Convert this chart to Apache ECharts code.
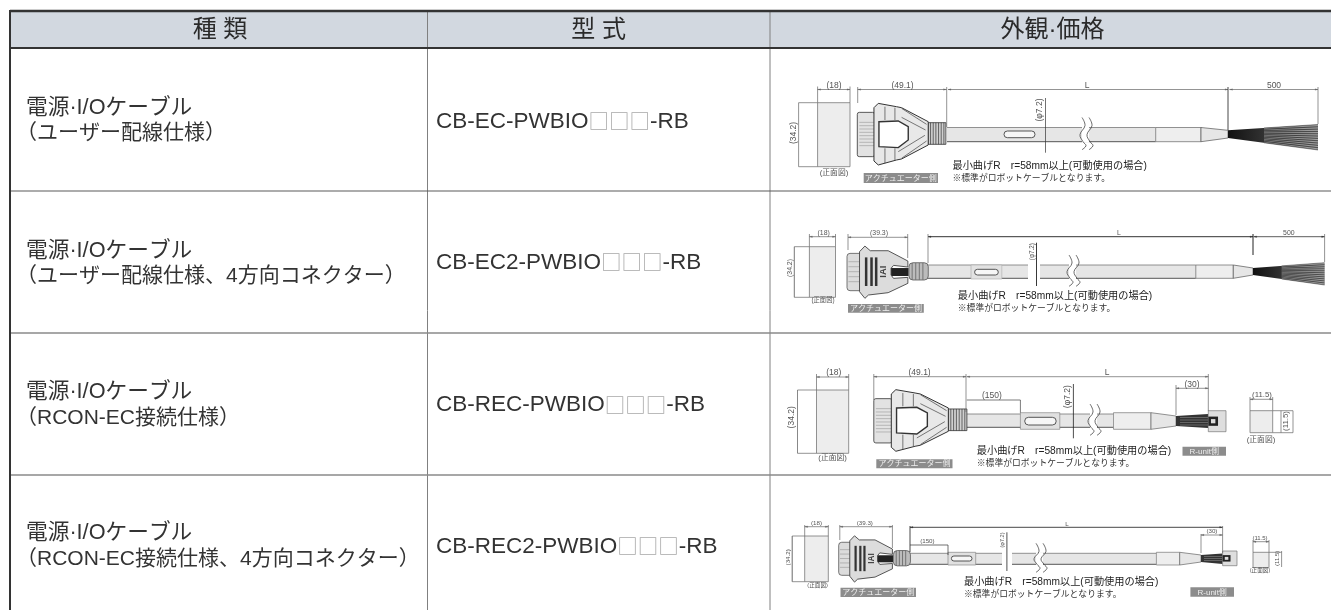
<!DOCTYPE html>
<html lang="ja"><head><meta charset="utf-8"><style>html,body{margin:0;padding:0;background:#fff}#c{width:1331px;height:610px}</style>
<script src="https://cdn.jsdelivr.net/npm/echarts@6/dist/echarts.min.js"></script></head><body><div id="c"></div>
<script>
const headers=['種 類','型 式','外観·価格'];
const kindLine1=['電源·I/Oケーブル','電源·I/Oケーブル','電源·I/Oケーブル','電源·I/Oケーブル'];
const kindLine2=['（ユーザー配線仕様）','（ユーザー配線仕様、4方向コネクター）','（RCON-EC接続仕様）','（RCON-EC接続仕様、4方向コネクター）'];
const models=['CB-EC-PWBIO□□□-RB','CB-EC2-PWBIO□□□-RB','CB-REC-PWBIO□□□-RB','CB-REC2-PWBIO□□□-RB'];
const noteBend='最小曲げR　r=58mm以上(可動使用の場合)';
const noteStd='※標準がロボットケーブルとなります。';
const tagActuator='アクチュエーター側', tagUnit='R-unit側', frontView='(正面図)';
const dimLabels={h:'(34.2)',w:'(18)',a:'(49.1)',b:'(39.3)',phi:'(φ7.2)',L:'L',wire:'500',s1:'(150)',s2:'(30)',sq:'(11.5)'};

const F='"Liberation Sans","Noto Sans CJK JP",sans-serif';
const FJ='"Noto Sans CJK JP",sans-serif';
const colX=[10,427.5,770,1331], rowY=[11,48,191,333,475,610];
const kindY=[[108,133],[250.7,276.5],[392,418],[533,559]], modelY=[121.7,262.7,405,546.7];

function renderAll(params,api){
  const kids=[];
  const C=(x,y)=>api.coord([x,y]);
  const line=(pts,stroke='#555',w=.8,smooth=0)=>kids.push({type:'polyline',shape:{points:pts.map(p=>C(p[0],p[1])),smooth},style:{stroke,lineWidth:w,fill:null}});
  const poly=(pts,fill,stroke='#555',w=.7)=>kids.push({type:'polygon',shape:{points:pts.map(p=>C(p[0],p[1]))},style:{fill,stroke,lineWidth:w}});
  const rect=(x1,y1,x2,y2,fill,stroke=null,w=.7,r=0)=>{const a=C(x1,y1),b=C(x2,y2);kids.push({type:'rect',shape:{x:a[0],y:a[1],width:b[0]-a[0],height:b[1]-a[1],r},style:{fill,stroke,lineWidth:w}});};
  const text=(s,x,y,size,opt={})=>{const p=C(x,y);kids.push({type:'text',x:p[0],y:p[1],rotation:opt.rot?Math.PI/2:0,style:{x:0,y:0,text:s,font:`${opt.weight||'normal'} ${size}px ${F}`,fill:opt.fill||'#333',align:opt.align||'center',verticalAlign:'middle',rich:opt.rich}});};

  // ---- table ----
  rect(colX[0],rowY[0],colX[3],rowY[1],'#d2d8e0');
  [colX[1],colX[2]].forEach(x=>line([[x,rowY[0]],[x,rowY[5]]],'#808080',1));
  line([[colX[0],rowY[2]],[colX[3],rowY[2]]],'#5a5a5a',1.2);
  line([[colX[0],rowY[3]],[colX[3],rowY[3]]],'#8a8a8a',1.5);
  line([[colX[0],rowY[4]],[colX[3],rowY[4]]],'#8a8a8a',1.5);
  line([[colX[0],rowY[0]],[colX[3],rowY[0]]],'#333',2.4);
  line([[colX[0],rowY[1]],[colX[3],rowY[1]]],'#333',2.2);
  line([[colX[0],rowY[0]-1],[colX[0],rowY[5]]],'#333',2);
  const hx=[220,598.7,1052.5];
  headers.forEach((h,i)=>text(h,hx[i],30,24,{fill:'#2a2a2a'}));
  kindLine1.forEach((t,i)=>{
    text(t,26,kindY[i][0],21.7,{align:'left'});
    text(kindLine2[i],16,kindY[i][1],21,{align:'left'});
    const m=models[i].split(/(□+)/);
    text(`{a|${m[0]}}{b|${m[1]}}{a|${m[2]}}`,436,modelY[i],22.5,{align:'left',rich:{a:{font:`22.5px ${F}`,fill:'#333'},b:{font:`20.5px ${FJ}`,fill:'#a8a8a8'}}});
  });

  // ---- drawing helpers ----
  const dimH=(x1,x2,y,label,lx,ly,fs=8.5,c='#666',w=.7)=>{line([[x1,y],[x2,y]],c,w);
    poly([[x1,y],[x1+3,y-.8],[x1+3,y+.8]],c,c,.2);poly([[x2,y],[x2-3,y-.8],[x2-3,y+.8]],c,c,.2);
    text(label,lx,ly,fs,{fill:'#555'});};
  const dimV=(x,y1,y2,label,lx,ly,fs=8.5,c='#666',w=.7)=>{line([[x,y1],[x,y2]],c,w);text(label,lx,ly,fs,{fill:'#555',rot:true});};
  const ext=(x1,y1,x2,y2,c='#666',w=.7)=>line([[x1,y1],[x2,y2]],c,w);
  const gray=(x1,y1,x2,y2,s,fs=8)=>{rect(x1,y1,x2,y2,'#8c8c8c');text(s,(x1+x2)/2,(y1+y2)/2+.3,fs,{fill:'#eee'});};
  const oval=(x1,y1,x2,y2)=>rect(x1,y1,x2,y2,'#f6f6f6','#444',.9,(y2-y1)/2);
  const cable=(x1,x2,y1,y2)=>{rect(x1,y1,x2,y2,'#e6e6e6');line([[x1,y1],[x2,y1]],'#777',.8);line([[x1,y2],[x2,y2]],'#444',.9);};
  const brk=(x,t,b)=>{const m=(t+b)/2;
    poly([[x,t-1],[x+7,t-1],[x+7,b+1],[x,b+1]],'#fff',null,0);
    [0,7].forEach(d=>line([[x+d,t-10],[x+d+3,t-2],[x+d-2,m],[x+d+1,b],[x+d+4,b+4],[x+d,b+8]],'#444',.8,.4));};
  const fan=(x1,x2,y1,y2,Y1,Y2)=>{
    poly([[x1,y1],[x2,Y1],[x2,Y2],[x1,y2]],new echarts.graphic.LinearGradient(0,0,1,0,[{offset:0,color:'#111'},{offset:.5,color:'#3a3a3a'},{offset:1,color:'#777'}]),null,0);
    for(let k=0;k<=22;k++){const f=k/22,t=.4;line([[x1+(x2-x1)*t,y1+(y2-y1)*f+((Y1-y1)*(1-f)+(Y2-y2)*f)*t],[x2,Y1+(Y2-Y1)*f]],k%2?'#d8d8d8':'#222',.45);}
  };
  const connA=(ox,cy,sx,sy)=>{const P=a=>a.map(p=>[ox+p[0]*sx,cy+p[1]*sy]);
    rect(ox,cy-65*sy,ox+52*sx,cy+68*sy,'#e2e2e2','#333',.8,2);
    [-35,-25,-15,-5,5,15,25,35].forEach(d=>line(P([[6,d],[50,d]]),'#888',.5));
    rect(ox+213*sx,cy-34*sy,ox+266*sx,cy+31*sy,'#d0d0d0','#333',.8);
    [220,228,236,244,252,260].forEach(d=>line(P([[d,-34],[d,31]]),'#333',.7));
    poly(P([[50,-79],[63,-92],[118,-82],[133,-79],[213,-37],[213,33],[133,75],[118,78],[63,93],[50,81]]),'#e8e8e8','#333',1);
    poly(P([[65,-37],[123,-39],[153,-22],[153,18],[123,41],[65,38]]),'#fff','#333',1.4);
    [[83,-82,83,-42],[113,-79,113,-42],[133,-77,208,-29],[133,-50,205,-12],[83,43,83,88],[113,43,113,78],[133,73,208,21],[123,53,203,4]].forEach(a=>line(P([[a[0],a[1]],[a[2],a[3]]]),'#444',.7));
  };
  const connB=(ox,cy,sx,sy)=>{const P=a=>a.map(p=>[ox+p[0]*sx,cy+p[1]*sy]);
    rect(ox,cy-55*sy,ox+42*sx,cy+57*sy,'#dcdcdc','#555',.8,3);
    [-30,-15,0,15,30].forEach(d=>line(P([[4,d],[38,d]]),'#888',.5));
    rect(ox+120*sx,cy-11*sy,ox+172*sx,cy+13*sy,'#222');
    rect(ox+173*sx,cy-27*sy,ox+227*sx,cy+25*sy,'#bcbcbc','#444',.7,4);
    [182,192,202,212].forEach(d=>line(P([[d,-26],[d,24]]),'#555',.7));
    poly(P([[35,-60],[50,-77],[65,-63],[115,-63],[170,-32],[170,-14],[130,-19],[123,-10],[123,10],[130,20],[170,17],[170,35],[115,63],[60,70],[50,80],[35,60]]),'#dcdcdc','#444',.9);
    [50,65,78].forEach(d=>rect(ox+d*sx,cy-43*sy,ox+(d+7)*sx,cy+43*sy,'#333'));
    const p=C(ox+103*sx,cy);kids.push({type:'text',x:p[0],y:p[1],rotation:Math.PI/2,style:{x:0,y:0,text:'IAI',font:`bold ${26*sx}px ${F}`,fill:'#444',align:'center',verticalAlign:'middle'}});
  };
  const plug=(x1,x2,y1,y2)=>{rect(x1,y1,x2,y2,'#dedede','#777',.7);const m=(y1+y2)/2,h=(y2-y1);
    rect(x1,m-h*.22,x1+(x2-x1)*.55,m+h*.22,'#222');rect(x1+(x2-x1)*.15,m-h*.1,x1+(x2-x1)*.4,m+h*.1,'#ddd');};

  // ---- row 1 ----
  rect(817.6,102.7,850,166.7,'#ededed','#777',.8);
  dimH(817.6,850,89.5,dimLabels.w,834,86); ext(817.6,86.5,817.6,102.7); ext(850,86.5,850,102.7);
  dimV(798.6,102.7,166.7,dimLabels.h,794,133); ext(798.6,102.7,817.6,102.7); ext(798.6,166.7,817.6,166.7);
  text(frontView,834,172.7,7.8,{fill:'#555'});
  cable(947,1155.7,127.5,141.7);
  oval(1004,131,1035,137.7);
  brk(1082,127.5,141.7);
  rect(1155.7,127.5,1201,141.7,'#eee','#666',.7);
  poly([[1201,127.5],[1228,130.3],[1228,138],[1201,141.7]],'#e6e6e6','#555',.7);
  fan(1228,1318,130.3,138,124.5,150);
  connA(857.3,134,.333,.333);
  dimH(857.7,946.5,89.5,dimLabels.a,902.5,86); ext(857.7,87,857.7,103); ext(946.7,87,946.7,127);
  dimH(948,1228,89.5,dimLabels.L,1087,85.5); ext(1228,87,1228,130,'#333',.9);
  dimH(1229.5,1318,89.5,dimLabels.wire,1274,85.5); ext(1318,87,1318,124);
  ext(1045.5,98,1045.5,152.7,'#333',.7); text(dimLabels.phi,1040,110,8.5,{fill:'#555',rot:true});
  text(noteBend,952.5,165.7,10.2,{align:'left',fill:'#222'}); text(noteStd,952.5,179,8.8,{align:'left',fill:'#333'});
  gray(863.7,173,938,183,tagActuator);

  // ---- row 2 ----
  rect(809.4,246.7,835.5,297.3,'#ededed','#777',.8);
  dimH(809.4,835.5,236.7,dimLabels.w,823.7,233.5,6.9); ext(809.4,234,809.4,246.7); ext(835.5,234,835.5,246.7);
  dimV(794.3,246.7,297.3,dimLabels.h,790.4,268,6.9,'#555',.8); ext(794.3,246.7,809.4,246.7); ext(794.3,297.3,809.4,297.3);
  text(frontView,823,300.7,6.3,{fill:'#555'});
  cable(928,1195.8,265,278.3);
  rect(971,265,1001.8,279,'#e2e2e2','#aaa',.6); oval(974.6,269.3,998.3,275);
  rect(1028,263,1040,280,'#fff');
  brk(1069,265,278.3);
  rect(1195.8,265,1233.3,278.3,'#eee','#666',.7);
  poly([[1233.3,265],[1253,268],[1253,275],[1233.3,278.3]],'#e6e6e6','#555',.7);
  fan(1253,1324.6,268,275,262.7,285);
  connB(847,271.7,.358,.333);
  dimH(848,907.7,237.3,dimLabels.b,879,233.3,6.9); ext(848,234,848,250); ext(907.7,234,907.7,258);
  dimH(928,1253,236.7,dimLabels.L,1118.8,233,6.9,'#333',1); ext(928,234,928,263); ext(1253,234,1253,255,'#222',1);
  dimH(1253.7,1324.6,236.7,dimLabels.wire,1288.8,232.7,6.9,'#333',.8); ext(1324.6,234,1324.6,262);
  ext(1036.5,242.7,1036.5,286,'#222',.9); text(dimLabels.phi,1032,251.7,6.3,{fill:'#555',rot:true});
  text(noteBend,957.8,295.7,10.2,{align:'left',fill:'#222'}); text(noteStd,957.8,309,8.8,{align:'left',fill:'#333'});
  gray(848,304,923.8,312.7,tagActuator);

  // ---- row 3 ----
  rect(816.5,390,848.7,453.3,'#ededed','#777',.8);
  dimH(816.5,848.7,377,dimLabels.w,833.7,372.5); ext(816.5,374,816.5,390); ext(848.7,374,848.7,390);
  dimV(797.5,390,453.3,dimLabels.h,792,417.3,8.5,'#555'); ext(797.5,390,816.5,390); ext(797.5,453.3,816.5,453.3);
  text(frontView,832.6,458,7.8,{fill:'#555'});
  cable(966.8,1113.5,414,427.3);
  rect(1020.4,412.7,1059.8,429.3,'#e0e0e0','#888',.7); oval(1024.7,417.3,1056.2,425);
  brk(1090,414,427.3);
  rect(1113.5,412.7,1151,429.3,'#eee','#777',.7);
  poly([[1151,412.7],[1176,416],[1176,426],[1151,429.3]],'#e6e6e6','#666',.7);
  poly([[1176,416],[1208,414],[1208,428],[1176,426]],'#333',null,0);
  [417.5,420,422.5,425].forEach(y=>line([[1180,y],[1208,y]],'#999',.5));
  plug(1208.3,1226,410.7,431.7);
  connA(873.8,420.3,.35,.333);
  dimH(873.8,966,376.7,dimLabels.a,919.6,372.5); ext(873.8,374,873.8,400); ext(966,374,966,412);
  dimH(966.8,1208.3,376.7,dimLabels.L,1107,372.5); ext(1208.3,374,1208.3,411);
  ext(966.8,400,1020.4,400,'#444',.7); text(dimLabels.s1,991.8,396,8.5,{fill:'#555'}); ext(1020.4,400,1020.4,412.7,'#444',.7);
  dimH(1176,1208.3,388.3,dimLabels.s2,1192,384.3); ext(1176,385,1176,415);
  ext(1073.4,384,1073.4,438.3,'#222',.8); text(dimLabels.phi,1067.7,396.7,8.5,{fill:'#555',rot:true});
  rect(1250,410.7,1272.7,432.7,'#ededed','#777',.8);
  dimH(1250,1272.7,399.3,dimLabels.sq,1262,395,7.8); ext(1250,397,1250,410.7); ext(1272.7,397,1272.7,410.7);
  dimV(1293,410.7,432.7,dimLabels.sq,1286.3,421,7.8); ext(1272.7,410.7,1293,410.7); ext(1272.7,432.7,1293,432.7); ext(1281,410.7,1281,432.7);
  text(frontView,1261,440,7.8,{fill:'#555'});
  text(noteBend,976.8,450.7,10.2,{align:'left',fill:'#222'}); text(noteStd,976.8,464,8.8,{align:'left',fill:'#333'});
  gray(876.3,459.3,952.5,468.3,tagActuator); gray(1182.5,446.7,1226,455.7,tagUnit);

  // ---- row 4 ----
  rect(804.7,536,828.3,581.7,'#ededed','#777',.8);
  dimH(804.7,828.3,526.7,dimLabels.w,816.5,523.5,6.2); ext(804.7,525,804.7,536); ext(828.3,525,828.3,536);
  dimV(792.2,536,581.7,dimLabels.h,788.6,557.3,6.2,'#444',.8); ext(792.2,536,804.7,536); ext(792.2,581.7,804.7,581.7);
  text(frontView,817.6,585,5.6,{fill:'#555'});
  cable(910,1156.4,553.3,564.3);
  rect(948,552.3,975.7,565,'#e0e0e0','#888',.7); oval(951.4,556,972,561);
  rect(1002,552,1012,566,'#fff');
  brk(1036,553.3,564.3);
  rect(1156.4,552.3,1179.7,565,'#eee','#777',.7);
  poly([[1179.7,552.3],[1201,555],[1201,562],[1179.7,565]],'#e6e6e6','#666',.7);
  poly([[1201,555],[1222.6,553.5],[1222.6,564],[1201,562]],'#333',null,0);
  [556.5,558.5,560.5].forEach(y=>line([[1204,y],[1222,y]],'#999',.5));
  plug(1222.6,1237,551,565.7);
  connB(838.7,558.5,.316,.295);
  dimH(839.8,892.4,526.7,dimLabels.b,864.8,523.5,6.2); ext(839.8,525,839.8,540); ext(892.4,525,892.4,548);
  dimH(910,1222.6,527.3,dimLabels.L,1067,524,6.2,'#333',.9); ext(910,526,910,552,'#333',.9); ext(1222.6,526,1222.6,534);
  ext(910,545,948,545,'#333',.7); text(dimLabels.s1,927.4,541.5,6.2,{fill:'#555'}); ext(948,545,948,555,'#333',.7);
  dimH(1201,1222.6,535,dimLabels.s2,1211.9,531.5,6.2); ext(1201,534,1201,553); ext(1222.6,534,1222.6,553);
  ext(1006.9,532.3,1006.9,571,'#222',.8); text(dimLabels.phi,1002.6,540,5.6,{fill:'#555',rot:true});
  rect(1253,552.3,1269,567.7,'#ededed','#777',.8);
  dimH(1253,1269,541.7,dimLabels.sq,1260,538.3,6); ext(1253,540,1253,552.3); ext(1269,540,1269,552.3);
  dimV(1281.6,551,567,dimLabels.sq,1277,558.3,6); ext(1269,552.3,1281.6,552.3);
  text(frontView,1260,570.7,5.6,{fill:'#555'});
  text(noteBend,964,581.7,10.2,{align:'left',fill:'#222'}); text(noteStd,964,594.3,8.8,{align:'left',fill:'#333'});
  gray(840.5,587.7,916,597,tagActuator); gray(1190.4,587.3,1234,596.7,tagUnit);

  return {type:'group',children:kids};
}
const chart=echarts.init(document.getElementById('c'),null,{renderer:'canvas'});
chart.setOption({
  animation:false,backgroundColor:'#fff',
  grid:{left:0,right:0,top:0,bottom:0},
  xAxis:{type:'value',min:0,max:1331,show:false},
  yAxis:{type:'value',min:0,max:610,inverse:true,show:false},
  series:[{type:'custom',coordinateSystem:'cartesian2d',clip:false,silent:true,data:[[0,0]],renderItem:renderAll}]
});
</script></body></html>
